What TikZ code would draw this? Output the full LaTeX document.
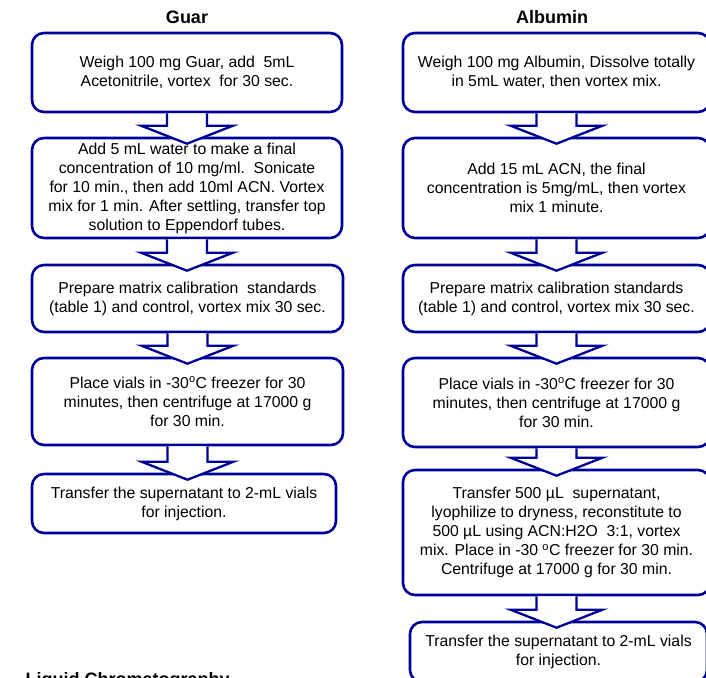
\documentclass[tikz,border=0pt]{standalone}
\usepackage{fontspec}
\setmainfont{Liberation Sans}
\usetikzlibrary{calc}
\definecolor{stepblue}{RGB}{0,0,150}

\newcommand{\flowarrow}[2]{%
  \coordinate (top) at (#1.south);
  \coordinate (bot) at (#1.south |- #2.north);
  \draw[flow] ($(top)+(-20,0)$) -- ($(bot)+(-20,-11)$) -- ($(bot)+(-46,-11)$)
    -- ($(bot)+(0,7)$) -- ($(bot)+(46,-11)$) -- ($(bot)+(20,-11)$)
    -- ($(top)+(20,0)$);
}

\begin{document}
\begin{tikzpicture}[
        x=1pt, y=-1pt,
        stepbox/.style={
        rectangle,
        rounded corners=12pt,
        draw=stepblue,
        line width=2.6pt,
        fill=white,
        align=center,
        inner sep=2pt,
        font=\fontsize{15.8}{19}\selectfont
      },
        title/.style={
        anchor=base,
        font=\bfseries\fontsize{18}{21}\selectfont
      },
        flow/.style={
        draw=stepblue,
        fill=white,
        line width=2.3pt,
        line join=miter
      }
    ]

    \useasboundingbox (0,0) rectangle (706,677);

    \node[title] (guar) at (187,24) {Guar};
    \node[title] (albumin) at (552,24) {Albumin};

    \node[stepbox, minimum width=310pt, minimum height=79pt] (g1) at (187,72.5)
      {Weigh 100 mg Guar, add\ \ 5mL\\Acetonitrile, vortex\ \ for 30 sec.};
    \node[stepbox, minimum width=310pt, minimum height=100pt] (g2) at (187,188)
      {Add 5 mL water to make a final\\concentration of 10 mg/ml.\ \ Sonicate\\for 10 min., then add 10ml ACN. Vortex\\mix for 1 min. After settling, transfer top\\solution to Eppendorf tubes.};
    \node[stepbox, minimum width=311pt, minimum height=67pt] (g3) at (187.5,298.5)
      {Prepare matrix calibration\ \ standards\\(table 1) and control, vortex mix 30 sec.};
    \node[stepbox, minimum width=311pt, minimum height=87pt] (g4) at (187.5,401.5)
      {Place vials in -30\textsuperscript{o}C freezer for 30\\minutes, then centrifuge at 17000 g\\for 30 min.};
    \node[stepbox, minimum width=304pt, minimum height=59pt] (g5) at (184,503.5)
      {Transfer the supernatant to 2-mL vials\\for injection.};

    \node[stepbox, minimum width=307pt, minimum height=79pt] (a1) at (556.5,72.5)
      {Weigh 100 mg Albumin, Dissolve totally\\in 5mL water, then vortex mix.};
    \node[stepbox, minimum width=307pt, minimum height=100pt] (a2) at (556.5,188)
      {Add 15 mL ACN, the final\\concentration is 5mg/mL, then vortex\\mix 1 minute.};
    \node[stepbox, minimum width=307pt, minimum height=67pt] (a3) at (556.5,298.5)
      {Prepare matrix calibration standards\\(table 1) and control, vortex mix 30 sec.};
    \node[stepbox, minimum width=307pt, minimum height=89pt] (a4) at (556.5,402.5)
      {Place vials in -30\textsuperscript{o}C freezer for 30\\minutes, then centrifuge at 17000 g\\for 30 min.};
    \node[stepbox, minimum width=307pt, minimum height=125pt] (a5) at (556.5,532.5)
      {Transfer 500 µL\ \ supernatant,\\lyophilize to dryness, reconstitute to\\500 µL using ACN:H2O\ \ 3:1, vortex\\mix. Place in -30 \textsuperscript{o}C freezer for 30 min.\\Centrifuge at 17000 g for 30 min.};
    \node[stepbox, minimum width=297pt, minimum height=60pt] (a6) at (558.5,652)
      {Transfer the supernatant to 2-mL vials\\for injection.};

    \node[title, anchor=base west] (lc) at (22,685) {Liquid Chromatography};

    \flowarrow{g1}{g2}
    \flowarrow{g2}{g3}
    \flowarrow{g3}{g4}
    \flowarrow{g4}{g5}

    \flowarrow{a1}{a2}
    \flowarrow{a2}{a3}
    \flowarrow{a3}{a4}
    \flowarrow{a4}{a5}
    \flowarrow{a5}{a6}

  \end{tikzpicture}
\end{document}
